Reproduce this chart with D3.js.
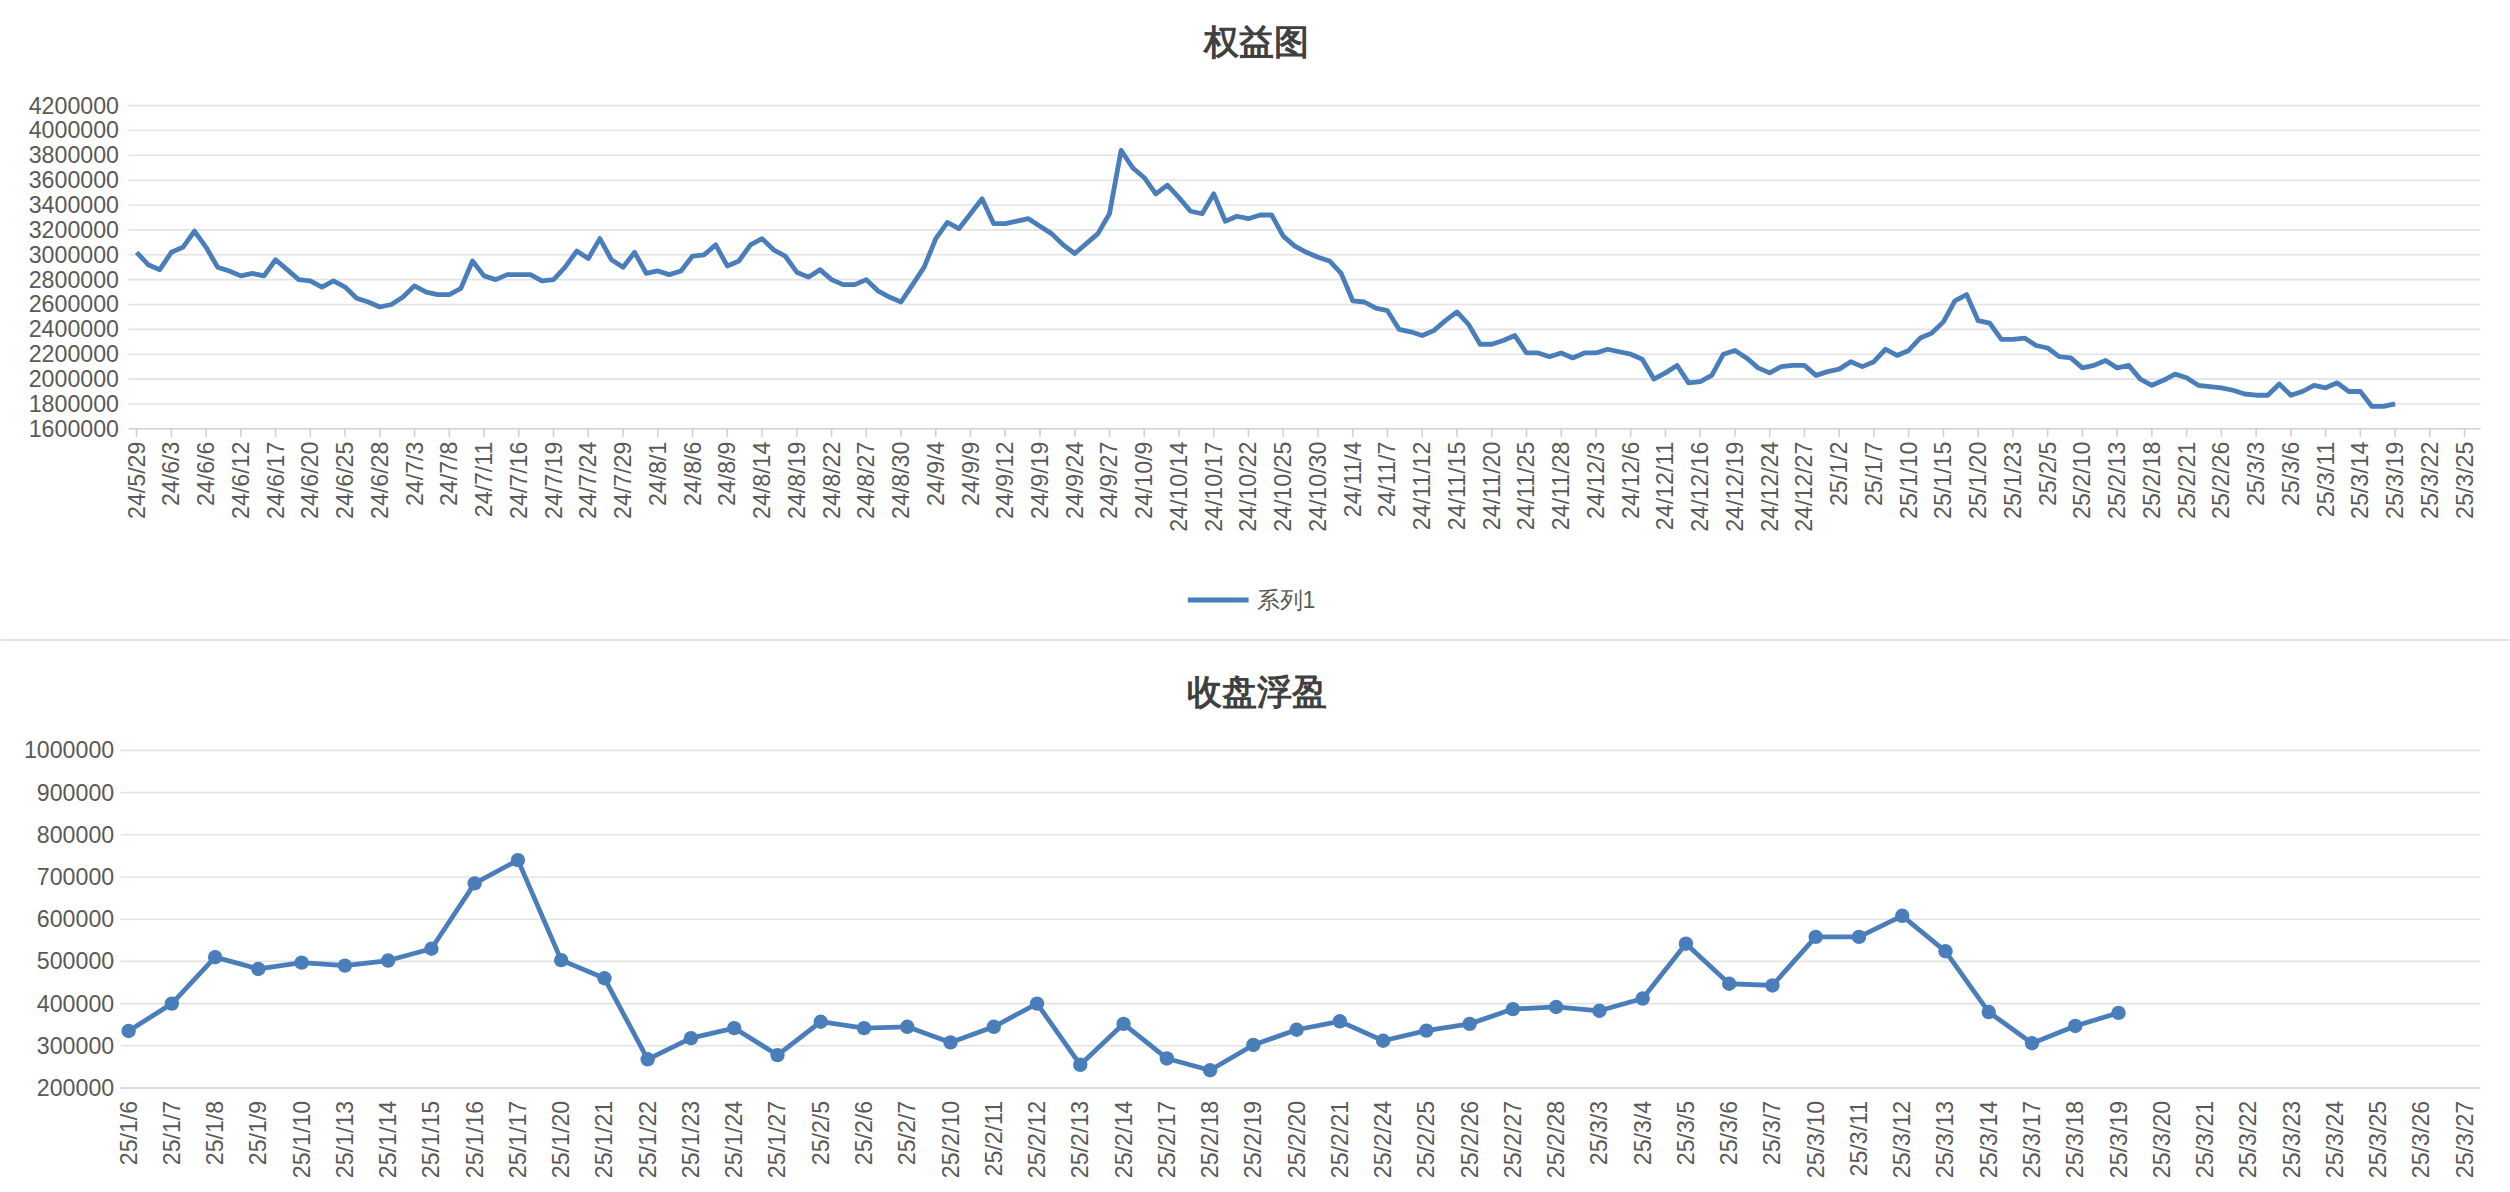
<!DOCTYPE html>
<html><head><meta charset="utf-8">
<script src="https://cdn.jsdelivr.net/npm/d3@7"></script>
<style>body{margin:0;background:#fff}svg{display:block}</style></head>
<body><svg id="c" width="2510" height="1192" viewBox="0 0 1568 745"></svg>
<script>
const topTicks=["24/5/29","24/6/3","24/6/6","24/6/12","24/6/17","24/6/20","24/6/25","24/6/28","24/7/3","24/7/8","24/7/11","24/7/16","24/7/19","24/7/24","24/7/29","24/8/1","24/8/6","24/8/9","24/8/14","24/8/19","24/8/22","24/8/27","24/8/30","24/9/4","24/9/9","24/9/12","24/9/19","24/9/24","24/9/27","24/10/9","24/10/14","24/10/17","24/10/22","24/10/25","24/10/30","24/11/4","24/11/7","24/11/12","24/11/15","24/11/20","24/11/25","24/11/28","24/12/3","24/12/6","24/12/11","24/12/16","24/12/19","24/12/24","24/12/27","25/1/2","25/1/7","25/1/10","25/1/15","25/1/20","25/1/23","25/2/5","25/2/10","25/2/13","25/2/18","25/2/21","25/2/26","25/3/3","25/3/6","25/3/11","25/3/14","25/3/19","25/3/22","25/3/25"];
const equity=[3020,2920,2880,3020,3060,3190,3060,2900,2870,2830,2850,2830,2960,2880,2800,2790,2740,2790,2740,2650,2620,2580,2600,2660,2750,2700,2680,2680,2730,2950,2830,2800,2840,2840,2840,2790,2800,2900,3030,2970,3130,2960,2900,3020,2850,2870,2840,2870,2990,3000,3080,2910,2950,3080,3130,3040,2990,2860,2820,2880,2800,2760,2760,2800,2710,2660,2620,2760,2900,3130,3260,3210,3330,3450,3250,3250,3270,3290,3230,3170,3080,3010,3090,3170,3330,3840,3700,3620,3490,3560,3460,3350,3330,3490,3270,3310,3290,3320,3320,3150,3070,3020,2980,2950,2850,2630,2620,2570,2550,2400,2380,2350,2390,2470,2540,2440,2280,2280,2310,2350,2210,2210,2180,2210,2170,2210,2210,2240,2220,2200,2160,2000,2050,2110,1970,1980,2030,2200,2230,2170,2090,2050,2100,2110,2110,2030,2060,2080,2140,2100,2140,2240,2190,2230,2330,2370,2460,2630,2680,2470,2450,2320,2320,2330,2270,2250,2180,2170,2090,2110,2150,2090,2110,2000,1950,1990,2040,2010,1950,1940,1930,1910,1880,1870,1870,1960,1870,1900,1950,1930,1970,1900,1900,1780,1780,1800].map(v=>v*1000);
const topYTicks=d3.range(1600000,4200001,200000);
const botCats=["25/1/6","25/1/7","25/1/8","25/1/9","25/1/10","25/1/13","25/1/14","25/1/15","25/1/16","25/1/17","25/1/20","25/1/21","25/1/22","25/1/23","25/1/24","25/1/27","25/2/5","25/2/6","25/2/7","25/2/10","25/2/11","25/2/12","25/2/13","25/2/14","25/2/17","25/2/18","25/2/19","25/2/20","25/2/21","25/2/24","25/2/25","25/2/26","25/2/27","25/2/28","25/3/3","25/3/4","25/3/5","25/3/6","25/3/7","25/3/10","25/3/11","25/3/12","25/3/13","25/3/14","25/3/17","25/3/18","25/3/19","25/3/20","25/3/21","25/3/22","25/3/23","25/3/24","25/3/25","25/3/26","25/3/27"];
const floating=[335,400,510,482,497,490,502,530,685,740,503,460,268,318,342,278,357,342,345,308,345,400,255,352,270,242,302,338,358,312,336,352,387,392,383,412,542,447,443,558,558,608,524,380,306,347,378].map(v=>v*1000);
const botYTicks=d3.range(200000,1000001,100000);

const svg=d3.select("#c");
const F="'Liberation Sans',Arial,sans-serif", C="#4a7ebb", TC="#595959";
// ---- top chart
const nTop=topTicks.length*3-2;
const x1=d3.scaleLinear().domain([0,nTop-1]).range([85,1540]);
const y1=d3.scaleLinear().domain([1600000,4200000]).range([268,66]);
svg.append("text").attr("x",785).attr("y",34).attr("text-anchor","middle").attr("font-family",F).attr("font-weight","bold").attr("font-size",22).attr("fill","#404040").text("权益图");
const g1=svg.append("g");
g1.selectAll("line.g").data(topYTicks.slice(1)).join("line").attr("x1",80).attr("x2",1550).attr("y1",d=>y1(d)).attr("y2",d=>y1(d)).attr("stroke","#e3e3e3");
g1.selectAll("text.y").data(topYTicks).join("text").attr("x",74).attr("y",d=>y1(d)+5).attr("text-anchor","end").attr("font-family",F).attr("font-size",14.5).attr("fill",TC).text(d=>d);
g1.append("line").attr("x1",80).attr("x2",1550).attr("y1",268).attr("y2",268).attr("stroke","#d0d0d0");
g1.selectAll("line.t").data(topTicks).join("line").attr("x1",(d,i)=>x1(i*3)).attr("x2",(d,i)=>x1(i*3)).attr("y1",268).attr("y2",273).attr("stroke","#d0d0d0");
g1.selectAll("text.x").data(topTicks).join("text").attr("transform",(d,i)=>`translate(${x1(i*3)+5},276) rotate(-90)`).attr("text-anchor","end").attr("font-family",F).attr("font-size",14.5).attr("fill",TC).text(d=>d);
g1.append("path").datum(equity).attr("fill","none").attr("stroke",C).attr("stroke-width",3).attr("stroke-linejoin","round").attr("d",d3.line().x((d,i)=>x1(i)).y(d=>y1(d)));
svg.append("line").attr("x1",742).attr("x2",780).attr("y1",375).attr("y2",375).attr("stroke",C).attr("stroke-width",3);
svg.append("text").attr("x",785).attr("y",380).attr("font-family",F).attr("font-size",14.5).attr("fill",TC).text("系列1");
svg.append("line").attr("x1",0).attr("x2",1568).attr("y1",400).attr("y2",400).attr("stroke","#d9d9d9");
// ---- bottom chart
const x2=d3.scalePoint().domain(botCats).range([80,1540]);
const y2=d3.scaleLinear().domain([200000,1000000]).range([680,469]);
svg.append("text").attr("x",785).attr("y",440).attr("text-anchor","middle").attr("font-family",F).attr("font-weight","bold").attr("font-size",22).attr("fill","#404040").text("收盘浮盈");
const g2=svg.append("g");
g2.selectAll("line.g").data(botYTicks.slice(1)).join("line").attr("x1",75).attr("x2",1550).attr("y1",d=>y2(d)).attr("y2",d=>y2(d)).attr("stroke","#e3e3e3");
g2.selectAll("text.y").data(botYTicks).join("text").attr("x",71).attr("y",d=>y2(d)+5).attr("text-anchor","end").attr("font-family",F).attr("font-size",14.5).attr("fill",TC).text(d=>d);
g2.append("line").attr("x1",75).attr("x2",1550).attr("y1",680).attr("y2",680).attr("stroke","#d0d0d0");
g2.selectAll("text.x").data(botCats).join("text").attr("transform",d=>`translate(${x2(d)+5},688) rotate(-90)`).attr("text-anchor","end").attr("font-family",F).attr("font-size",14.5).attr("fill",TC).text(d=>d);
g2.append("path").datum(floating).attr("fill","none").attr("stroke",C).attr("stroke-width",3).attr("stroke-linejoin","round").attr("d",d3.line().x((d,i)=>x2(botCats[i])).y(d=>y2(d)));
g2.selectAll("circle").data(floating).join("circle").attr("cx",(d,i)=>x2(botCats[i])).attr("cy",d=>y2(d)).attr("r",4.5).attr("fill",C);
</script></body></html>
